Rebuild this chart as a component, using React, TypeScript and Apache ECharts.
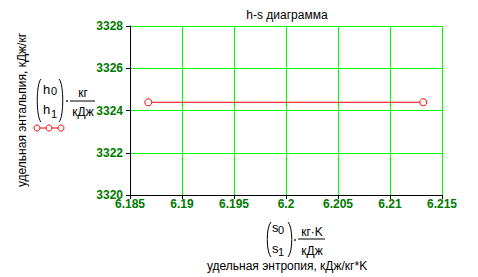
import React, { useEffect, useRef } from "react";
import * as echarts from "echarts";

const entropy = [6.18676, 6.2132];
const enthalpy = [3324.39, 3324.39];
const xTicks = { min: 6.185, max: 6.215, interval: 0.005 };
const yTicks = { min: 3320, max: 3328, interval: 2 };
const titleText = "h-s диаграмма";
const yName = "удельная энтальпия, кДж/кг";
const xName = "удельная энтропия, кДж/кг*K";

const FONT = "Liberation Sans";
const RED = "#ff0000";

function paren(x0: number, top: number, bot: number, dir: number) {
  return {
    type: "bezierCurve",
    shape: {
      x1: x0, y1: top,
      cpx1: x0 - dir * 5, cpy1: top + 5,
      cpx2: x0 - dir * 5, cpy2: bot - 5,
      x2: x0, y2: bot,
    },
    style: { stroke: "#000", lineWidth: 1, fill: "none" },
    silent: true,
  };
}

function txt(x: number, y: number, text: string, size = 12, align = "left") {
  return {
    type: "text",
    x, y,
    style: { text, fontSize: size, fontFamily: FONT, fill: "#000", align, verticalAlign: "middle" },
    silent: true,
  };
}

function hline(x1: number, x2: number, y: number, color = "#000") {
  return { type: "line", shape: { x1, y1: y, x2, y2: y }, style: { stroke: color, lineWidth: 1 }, silent: true };
}

export default function App() {
  const ref = useRef<HTMLDivElement>(null);
  useEffect(() => {
    if (!ref.current) return;
    const chart = echarts.init(ref.current, null, { renderer: "svg" });
    const labelStyle = { color: "#007a00", fontWeight: "bold", fontSize: 12, fontFamily: FONT };
    chart.setOption({
      animation: false,
      backgroundColor: "#fff",
      grid: { left: 130, right: 36, top: 26, bottom: 82, containLabel: false },
      xAxis: {
        type: "value",
        min: xTicks.min, max: xTicks.max, interval: xTicks.interval,
        axisLine: { show: true, onZero: false, lineStyle: { color: "#000", width: 1 } },
        axisTick: { show: true, length: 4, lineStyle: { color: "#000" } },
        axisLabel: { ...labelStyle, margin: 3, formatter: (v: number) => String(+v.toFixed(3)) },
        splitLine: { show: true, showMinLine: false, lineStyle: { color: "#00ff00", width: 1 } },
      },
      yAxis: {
        type: "value",
        min: yTicks.min, max: yTicks.max, interval: yTicks.interval,
        axisLine: { show: true, onZero: false, lineStyle: { color: "#000", width: 1 } },
        axisTick: { show: true, length: 4, lineStyle: { color: "#000" } },
        axisLabel: { ...labelStyle, margin: 7, formatter: (v: number) => String(v) },
        splitLine: { show: true, showMinLine: false, lineStyle: { color: "#00ff00", width: 1 } },
      },
      series: [
        {
          type: "line",
          data: entropy.map((x, i) => [x, enthalpy[i]]),
          symbol: "circle",
          symbolSize: 7,
          showSymbol: true,
          lineStyle: { color: RED, width: 1 },
          itemStyle: { color: "#fff", borderColor: RED, borderWidth: 1 },
          z: 5,
        },
      ],
      graphic: [
        txt(287, 15, titleText, 12, "center"),
        {
          type: "text",
          x: 22, y: 110, rotation: Math.PI / 2,
          style: { text: yName, fontSize: 12, fontFamily: FONT, fill: "#000", align: "center", verticalAlign: "middle" },
          silent: true,
        },
        paren(41, 79, 122, 1),
        paren(59, 79, 122, -1),
        txt(43, 89, "h", 13),
        txt(51, 91, "0", 11),
        txt(43, 109, "h", 13),
        txt(51, 114, "1", 11),
        { type: "circle", shape: { cx: 67, cy: 101, r: 0.8 }, style: { fill: "#000" }, silent: true },
        txt(83, 93, "кг", 12, "center"),
        hline(70, 95, 101),
        txt(83, 112, "кДж", 12, "center"),
        hline(35, 63, 128, RED),
        ...[37, 49, 61].map((cx) => ({
          type: "circle",
          shape: { cx, cy: 128, r: 3 },
          style: { fill: "#fff", stroke: RED, lineWidth: 1 },
          silent: true,
        })),
        paren(271, 222, 257, 1),
        paren(288, 222, 257, -1),
        txt(272, 227, "s", 13),
        txt(278, 230, "0", 11),
        txt(272, 248, "s", 13),
        txt(278, 252, "1", 11),
        { type: "circle", shape: { cx: 295, cy: 240, r: 0.8 }, style: { fill: "#000" }, silent: true },
        txt(312, 232, "кг·K", 12, "center"),
        hline(298, 325, 239),
        txt(312, 251, "кДж", 12, "center"),
        txt(287, 266, xName, 12, "center"),
      ],
    });
    return () => chart.dispose();
  }, []);
  return <div ref={ref} style={{ position: "fixed", left: 0, top: 0, width: 478, height: 277 }} />;
}
